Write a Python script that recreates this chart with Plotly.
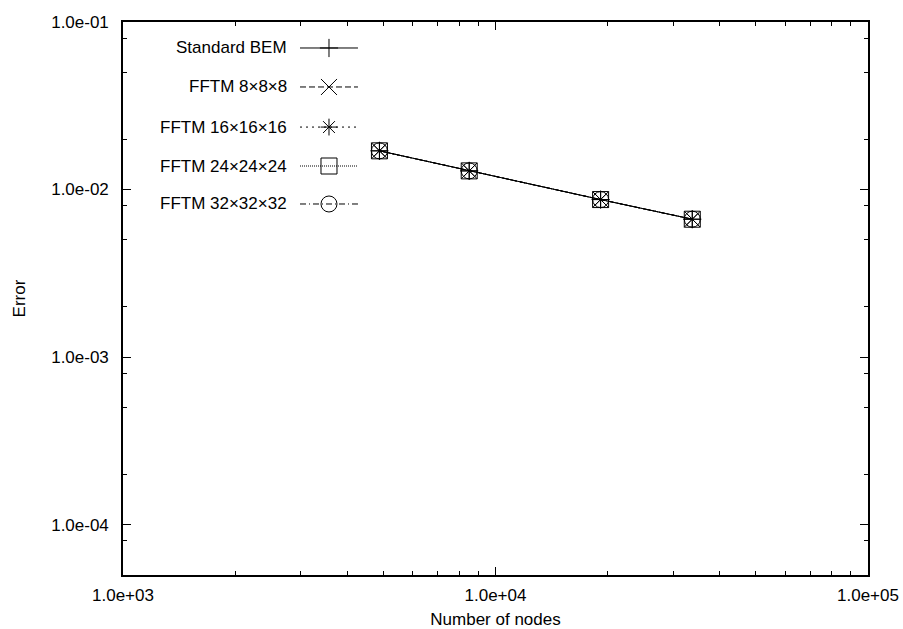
import plotly.graph_objects as go

# Mesh sizes (number of boundary nodes) and relative error per solver
nodes = [4880, 8500, 19150, 33750]
error_bem = [0.01702, 0.01292, 0.00871, 0.00665]
error_fftm_8 = [0.01702, 0.01292, 0.00871, 0.00665]
error_fftm_16 = [0.01702, 0.01292, 0.00871, 0.00665]
error_fftm_24 = [0.01702, 0.01292, 0.00871, 0.00665]
error_fftm_32 = [0.01702, 0.01292, 0.00871, 0.00665]

series_names = ["Standard BEM", "FFTM 8×8×8", "FFTM 16×16×16",
                "FFTM 24×24×24", "FFTM 32×32×32"]
series_values = [error_bem, error_fftm_8, error_fftm_16, error_fftm_24, error_fftm_32]

x_tick_values = [1e3, 1e4, 1e5]
x_tick_labels = ["1.0e+03", "1.0e+04", "1.0e+05"]
y_tick_values = [1e-4, 1e-3, 1e-2, 1e-1]
y_tick_labels = ["1.0e-04", "1.0e-03", "1.0e-02", "1.0e-01"]

# gnuplot-like point types, sizes and dash patterns
symbols = ["cross-thin-open", "x-thin-open", "asterisk-open", "square-open", "circle-open"]
sizes = [13, 16, 14, 16, 16]
dashes = ["solid", "6px,3px", "2px,4px", "1px,1px", "6px,3px,1px,3px"]

FONT = "Liberation Sans, Arial, sans-serif"
FS = 17
W, H = 903, 629
L, R, T, B = 123, 35, 22, 54

fig = go.Figure()

for name, vals, sym, sz, dash in zip(series_names, series_values, symbols, sizes, dashes):
    fig.add_trace(go.Scatter(
        x=nodes, y=vals, mode="lines+markers", name=name,
        line=dict(color="black", width=1, dash=dash),
        marker=dict(symbol=sym, size=sz, color="black", line=dict(color="black", width=1)),
        showlegend=False,
    ))

# Key in the upper-left corner: right-aligned title, then line sample with point
key_text_x = 0.2228
key_line = (0.2376, 0.3154)
key_rows = [0.953, 0.8825, 0.810, 0.7396, 0.6709]
annotations = []
for name, sym, sz, dash, ky in zip(series_names, symbols, sizes, dashes, key_rows):
    fig.add_trace(go.Scatter(
        x=list(key_line), y=[ky, ky], mode="lines", xaxis="x2", yaxis="y2",
        line=dict(color="black", width=1, dash=dash), showlegend=False, hoverinfo="skip",
    ))
    fig.add_trace(go.Scatter(
        x=[(key_line[0] + key_line[1]) / 2], y=[ky], mode="markers", xaxis="x2", yaxis="y2",
        marker=dict(symbol=sym, size=sz, color="black", line=dict(color="black", width=1)),
        showlegend=False, hoverinfo="skip",
    ))
    annotations.append(dict(
        x=key_text_x, y=ky, xref="paper", yref="paper", text=name, showarrow=False,
        xanchor="right", yanchor="middle", font=dict(family=FONT, size=FS, color="black"),
    ))

axis_common = dict(
    showline=True, linecolor="black", linewidth=1.5, mirror="allticks",
    ticks="inside", ticklen=8, tickwidth=1, tickcolor="black",
    showgrid=False, zeroline=False, automargin=False,
    tickfont=dict(family=FONT, size=FS, color="black"),
)

fig.update_layout(
    width=W, height=H, autosize=False,
    margin=dict(l=L, r=R, t=T, b=B, pad=0),
    paper_bgcolor="white", plot_bgcolor="white",
    font=dict(family=FONT, size=FS, color="black"),
    xaxis=dict(
        type="log", range=[3, 5], tickmode="array",
        tickvals=x_tick_values, ticktext=x_tick_labels, ticklabelstandoff=4,
        minor=dict(tickmode="array",
                   tickvals=[m * 10 ** e for e in (3, 4) for m in range(2, 10)],
                   ticks="inside", ticklen=4, tickwidth=1, tickcolor="black"),
        title=dict(text="Number of nodes", font=dict(family=FONT, size=FS), standoff=16),
        **axis_common,
    ),
    yaxis=dict(
        type="log", range=[-4.30103, -1], tickmode="array",
        tickvals=y_tick_values, ticktext=y_tick_labels, ticklabelstandoff=9,
        minor=dict(tickmode="array",
                   tickvals=[m * 10 ** e for e in (-5, -4, -3, -2) for m in (2, 5, 8)],
                   ticks="inside", ticklen=4, tickwidth=1, tickcolor="black"),
        title=dict(text="Error", font=dict(family=FONT, size=FS), standoff=21),
        **axis_common,
    ),
    xaxis2=dict(domain=[0, 1], range=[0, 1], overlaying="x", visible=False, fixedrange=True),
    yaxis2=dict(domain=[0, 1], range=[0, 1], overlaying="y", visible=False, fixedrange=True),
    annotations=annotations,
)

fig.write_html("out.html")
